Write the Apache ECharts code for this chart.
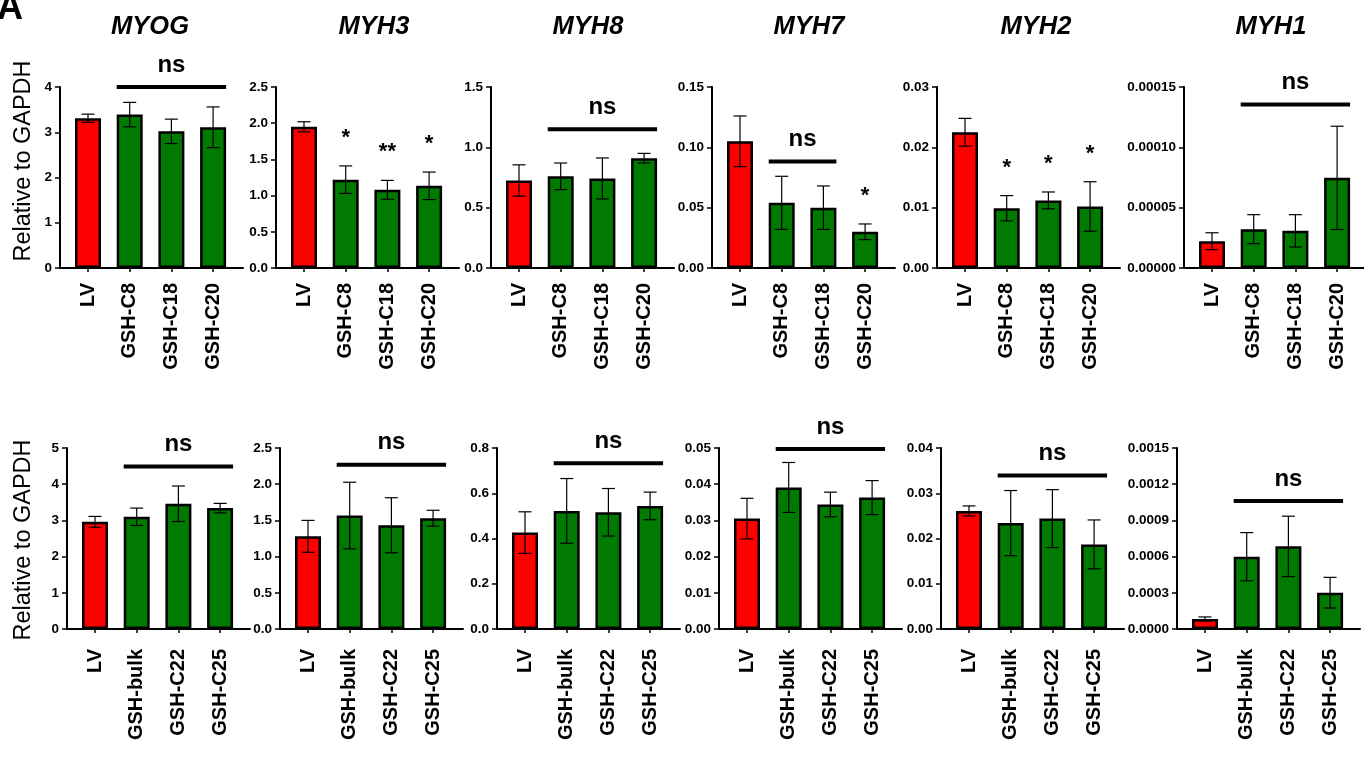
<!DOCTYPE html>
<html><head><meta charset="utf-8">
<script src="https://cdn.jsdelivr.net/npm/echarts@6/dist/echarts.min.js"></script>
<style>html,body{margin:0;padding:0;background:#fff}#c{width:1364px;height:760px}</style>
</head><body><div id="c"></div>
<script>
// ---------------- DATA ----------------
const genes = ['MYOG', 'MYH3', 'MYH8', 'MYH7', 'MYH2', 'MYH1'];
const topCategories = ['LV', 'GSH-C8', 'GSH-C18', 'GSH-C20'];
const bottomCategories = ['LV', 'GSH-bulk', 'GSH-C22', 'GSH-C25'];

// top row (mean, error)
const myogTopMean = [3.31, 3.39, 3.02, 3.11];
const myogTopErr  = [0.09, 0.27, 0.27, 0.45];
const myh3TopMean = [1.95, 1.22, 1.08, 1.135];
const myh3TopErr  = [0.07, 0.19, 0.13, 0.19];
const myh8TopMean = [0.725, 0.76, 0.742, 0.91];
const myh8TopErr  = [0.13, 0.11, 0.17, 0.04];
const myh7TopMean = [0.105, 0.054, 0.050, 0.030];
const myh7TopErr  = [0.021, 0.022, 0.018, 0.0065];
const myh2TopMean = [0.0225, 0.0099, 0.0112, 0.0102];
const myh2TopErr  = [0.0023, 0.0021, 0.0014, 0.0041];
const myh1TopMean = [0.0000222, 0.0000322, 0.0000308, 0.0000747];
const myh1TopErr  = [0.000007, 0.000012, 0.0000134, 0.0000428];

// bottom row (mean, error)
const myogBottomMean = [2.96, 3.10, 3.46, 3.34];
const myogBottomErr  = [0.15, 0.24, 0.49, 0.13];
const myh3BottomMean = [1.28, 1.567, 1.433, 1.53];
const myh3BottomErr  = [0.22, 0.46, 0.38, 0.11];
const myh8BottomMean = [0.426, 0.522, 0.516, 0.544];
const myh8BottomErr  = [0.092, 0.143, 0.105, 0.061];
const myh7BottomMean = [0.0305, 0.0391, 0.0344, 0.0363];
const myh7BottomErr  = [0.0056, 0.0069, 0.0034, 0.0047];
const myh2BottomMean = [0.0261, 0.0234, 0.0244, 0.0187];
const myh2BottomErr  = [0.0011, 0.0072, 0.0064, 0.0054];
const myh1BottomMean = [0.000083, 0.000599, 0.000685, 0.000301];
const myh1BottomErr  = [0.000017, 0.0002, 0.00025, 0.000127];

// axes / ticks
const topAxisMax = [4, 2.5, 1.5, 0.15, 0.03, 0.00015];
const topAxisStep = [1, 0.5, 0.5, 0.05, 0.01, 0.00005];
const topTickDecimals = [0, 1, 1, 2, 2, 5];
const bottomAxisMax = [5, 2.5, 0.8, 0.05, 0.04, 0.0015];
const bottomAxisStep = [1, 0.5, 0.2, 0.01, 0.01, 0.0003];
const bottomTickDecimals = [0, 1, 1, 2, 2, 4];

// significance annotations
const topStars = [['', '', '', ''], ['', '*', '**', '*'], ['', '', '', ''], ['', '', '', '*'], ['', '*', '*', '*'], ['', '', '', '']];
const topNsFrom = [1, null, 1, 1, null, 1];
const topNsTo = [3, null, 3, 2, null, 3];
const topNsLevel = [4.0, null, 1.15, 0.0883, null, 0.0001356];
const bottomStars = [['', '', '', ''], ['', '', '', ''], ['', '', '', ''], ['', '', '', ''], ['', '', '', ''], ['', '', '', '']];
const bottomNsFrom = [1, 1, 1, 1, 1, 1];
const bottomNsTo = [3, 3, 3, 3, 3, 3];
const bottomNsLevel = [4.49, 2.27, 0.733, 0.0497, 0.0339, 0.00106];

const yAxisTitle = 'Relative to GAPDH';
const panelLetter = 'A';

// ---------------- LAYOUT / STYLE ----------------
const FONT = '"Liberation Sans", Arial, Helvetica, sans-serif';
const RED = '#ff0000', GREEN = '#007a00';
const topGridLeft = [60, 276, 491, 712, 937, 1184];
const bottomGridLeft = [67, 280, 497, 719, 941, 1177];
const topTitleX = [150, 374, 588, 809, 1036, 1271];
const GRID_W = 183, GRID_H = 181, TOP_Y = 87, BOTTOM_Y = 448;
const TOP_LABEL_MARGIN = 15, BOTTOM_LABEL_MARGIN = 20;
const PX_PER_CAT = 41.7, FIRST_OFFSET = 28, BAR_W = 26;

const topMeans = [myogTopMean, myh3TopMean, myh8TopMean, myh7TopMean, myh2TopMean, myh1TopMean];
const topErrs = [myogTopErr, myh3TopErr, myh8TopErr, myh7TopErr, myh2TopErr, myh1TopErr];
const bottomMeans = [myogBottomMean, myh3BottomMean, myh8BottomMean, myh7BottomMean, myh2BottomMean, myh1BottomMean];
const bottomErrs = [myogBottomErr, myh3BottomErr, myh8BottomErr, myh7BottomErr, myh2BottomErr, myh1BottomErr];

const grids = [], xAxes = [], yAxes = [], series = [];

function addPanel(left, top, labelMargin, cats, mean, err, yMax, yStep, dec, stars, nsFrom, nsTo, nsLevel) {
  const k = grids.length;
  const width = Math.min(GRID_W, 1364 - left);
  const xmin = -FIRST_OFFSET / PX_PER_CAT;
  const xmax = xmin + width / PX_PER_CAT;
  const idx = cats.map((c, i) => i);
  grids.push({ left: left, top: top, width: width, height: GRID_H, containLabel: false });
  xAxes.push({
    type: 'value', gridIndex: k, min: xmin, max: xmax,
    splitLine: { show: false },
    axisLine: { show: true, onZero: false, lineStyle: { color: '#000', width: 2 } },
    axisTick: { show: true, customValues: idx, length: 4, lineStyle: { color: '#000', width: 1.5 } },
    axisLabel: {
      customValues: idx, rotate: 90, margin: labelMargin,
      formatter: v => cats[Math.round(v)],
      color: '#000', fontWeight: 'bold', fontSize: 20, fontFamily: FONT
    }
  });
  yAxes.push({
    type: 'value', gridIndex: k, min: 0, max: yMax, interval: yStep,
    splitLine: { show: false },
    axisLine: { show: true, onZero: false, lineStyle: { color: '#000', width: 2 } },
    axisTick: { show: true, length: 5, lineStyle: { color: '#000', width: 1.5 } },
    axisLabel: {
      formatter: v => v.toFixed(dec), margin: 8,
      color: '#000', fontWeight: 'bold', fontSize: 13.5, fontFamily: FONT
    }
  });
  series.push({
    type: 'bar', xAxisIndex: k, yAxisIndex: k, barWidth: BAR_W,
    itemStyle: { borderColor: '#000', borderWidth: 2.5 },
    data: mean.map((v, i) => ({ value: [i, v], itemStyle: { color: i === 0 ? RED : GREEN } })),
    z: 2
  });
  series.push({
    type: 'custom', xAxisIndex: k, yAxisIndex: k, z: 3,
    data: mean.map((v, i) => [i, v - err[i], v + err[i]]),
    renderItem: (params, api) => {
      const x = api.value(0);
      const pLo = api.coord([x, api.value(1)]);
      const pHi = api.coord([x, api.value(2)]);
      const cap = 6.5, st = { stroke: '#000', lineWidth: 1.2 };
      return { type: 'group', children: [
        { type: 'line', shape: { x1: pHi[0], y1: pHi[1], x2: pLo[0], y2: pLo[1] }, style: st },
        { type: 'line', shape: { x1: pHi[0] - cap, y1: pHi[1], x2: pHi[0] + cap, y2: pHi[1] }, style: st },
        { type: 'line', shape: { x1: pLo[0] - cap, y1: pLo[1], x2: pLo[0] + cap, y2: pLo[1] }, style: st }
      ]};
    }
  });
  const starIdx = idx.filter(i => stars[i]);
  if (starIdx.length) {
    series.push({
      type: 'custom', xAxisIndex: k, yAxisIndex: k, z: 4,
      data: starIdx.map(i => [i, mean[i] + err[i]]),
      renderItem: (params, api) => {
        const p = api.coord([api.value(0), api.value(1)]);
        return { type: 'text', x: p[0], y: p[1] - 28, style: {
          text: stars[starIdx[params.dataIndex]], fill: '#000',
          font: 'bold 22px ' + FONT, align: 'center', verticalAlign: 'middle' } };
      }
    });
  }
  if (nsLevel !== null) {
    series.push({
      type: 'custom', xAxisIndex: k, yAxisIndex: k, z: 4,
      data: [[nsFrom, nsTo, nsLevel]],
      renderItem: (params, api) => {
        const p1 = api.coord([api.value(0), api.value(2)]);
        const p2 = api.coord([api.value(1), api.value(2)]);
        const x1 = p1[0] - BAR_W / 2, x2 = p2[0] + BAR_W / 2, y = p1[1];
        return { type: 'group', children: [
          { type: 'rect', shape: { x: x1, y: y - 2, width: x2 - x1, height: 4 }, style: { fill: '#000' } },
          { type: 'text', x: (x1 + x2) / 2, y: y - 10, style: {
            text: 'ns', fill: '#000', font: 'bold 24px ' + FONT, align: 'center', verticalAlign: 'bottom' } }
        ]};
      }
    });
  }
}

for (let p = 0; p < 6; p++) {
  addPanel(topGridLeft[p], TOP_Y, TOP_LABEL_MARGIN, topCategories, topMeans[p], topErrs[p], topAxisMax[p], topAxisStep[p],
    topTickDecimals[p], topStars[p], topNsFrom[p], topNsTo[p], topNsLevel[p]);
}
for (let p = 0; p < 6; p++) {
  addPanel(bottomGridLeft[p], BOTTOM_Y, BOTTOM_LABEL_MARGIN, bottomCategories, bottomMeans[p], bottomErrs[p], bottomAxisMax[p], bottomAxisStep[p],
    bottomTickDecimals[p], bottomStars[p], bottomNsFrom[p], bottomNsTo[p], bottomNsLevel[p]);
}

const graphics = [
  { type: 'text', x: -3, y: 27, style: { text: panelLetter, font: 'bold 36px ' + FONT, fill: '#000', align: 'left', verticalAlign: 'bottom' } },
  { type: 'text', x: 24, y: 161, rotation: Math.PI / 2, style: { text: yAxisTitle, font: '23.5px ' + FONT, fill: '#000', align: 'center', verticalAlign: 'middle' } },
  { type: 'text', x: 24, y: 540, rotation: Math.PI / 2, style: { text: yAxisTitle, font: '23.5px ' + FONT, fill: '#000', align: 'center', verticalAlign: 'middle' } }
];
genes.forEach((g, p) => {
  graphics.push({ type: 'text', x: topTitleX[p], y: 27, style: { text: g, font: 'italic bold 25.5px ' + FONT, fill: '#000', align: 'center', verticalAlign: 'middle' } });
});

const chart = echarts.init(document.getElementById('c'), null, { renderer: 'canvas' });
chart.setOption({
  animation: false,
  backgroundColor: '#fff',
  grid: grids, xAxis: xAxes, yAxis: yAxes, series: series,
  graphic: graphics
});
</script></body></html>
